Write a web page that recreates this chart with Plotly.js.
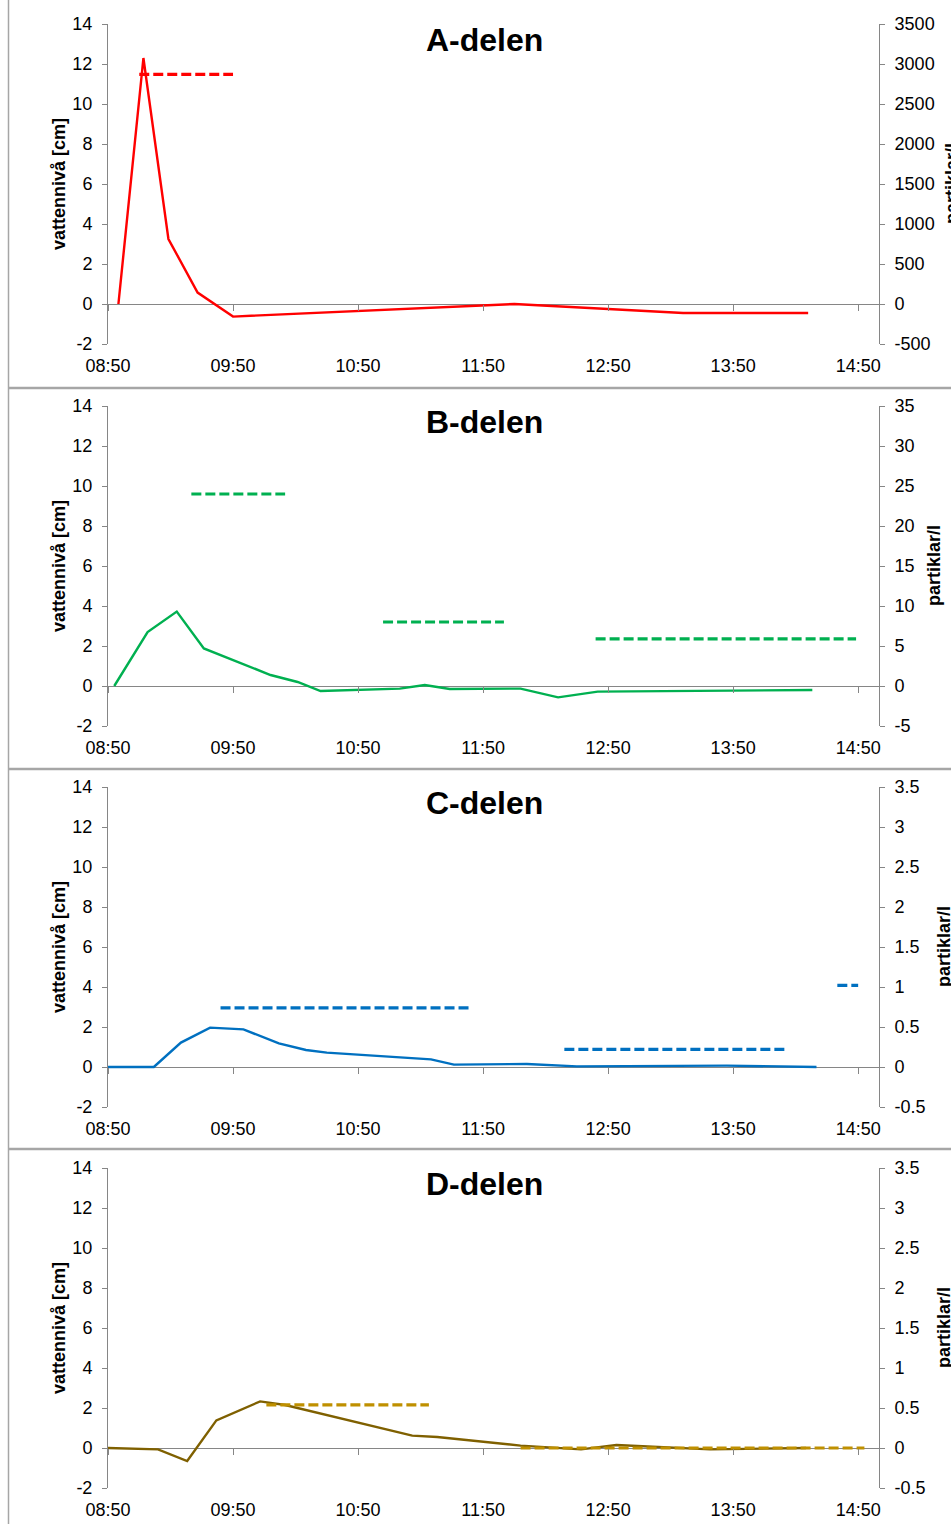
<!DOCTYPE html>
<html><head><meta charset="utf-8">
<script src="https://cdn.plot.ly/plotly-3.0.1.min.js"></script>
<style>html,body{margin:0;padding:0;background:#fff}#chart{width:951px;height:1524px}</style>
</head><body><div id="chart"></div>
<script>
// ---------- data ----------
const day = '2024-01-01 ';
const panelTitles = ['A-delen', 'B-delen', 'C-delen', 'D-delen'];
const leftTitle = 'vattennivå [cm]';
const rightTitle = 'partiklar/l';

const xTickLabels = ['08:50', '09:50', '10:50', '11:50', '12:50', '13:50', '14:50'];
const xRangeLabels = ['08:50', '15:00'];

const leftTickVals = [-2, 0, 2, 4, 6, 8, 10, 12, 14];
const leftTickText = ['-2', '0', '2', '4', '6', '8', '10', '12', '14'];

const rightTickValsA = [-500, 0, 500, 1000, 1500, 2000, 2500, 3000, 3500];
const rightTickTextA = ['-500', '0', '500', '1000', '1500', '2000', '2500', '3000', '3500'];
const rightTickValsB = [-5, 0, 5, 10, 15, 20, 25, 30, 35];
const rightTickTextB = ['-5', '0', '5', '10', '15', '20', '25', '30', '35'];
const rightTickValsCD = [-0.5, 0, 0.5, 1, 1.5, 2, 2.5, 3, 3.5];
const rightTickTextCD = ['-0.5', '0', '0.5', '1', '1.5', '2', '2.5', '3', '3.5'];

// A-delen
const aWaterTime = ['08:55', '09:07', '09:19', '09:33', '09:50', '12:05', '13:26', '14:26'];
const aWaterLevel = [0, 12.3, 3.25, 0.57, -0.63, 0, -0.45, -0.45];
const aPartStart = ['09:05'];
const aPartEnd = ['09:50'];
const aPartValue = [2870];

// B-delen
const bWaterTime = ['08:53', '09:09', '09:23', '09:36', '10:08', '10:21', '10:32', '11:10', '11:22', '11:34', '12:08', '12:26', '12:45', '14:28'];
const bWaterLevel = [0, 2.7, 3.72, 1.88, 0.55, 0.2, -0.25, -0.13, 0.05, -0.15, -0.13, -0.57, -0.28, -0.2];
const bPartStart = ['09:30', '11:02', '12:44'];
const bPartEnd = ['10:15', '12:00', '14:49'];
const bPartValue = [24, 8, 5.9];

// C-delen
const cWaterTime = ['08:50', '09:12', '09:25', '09:39', '09:55', '10:12', '10:25', '10:35', '11:25', '11:36', '12:11', '12:35', '13:47', '14:30'];
const cWaterLevel = [0, 0, 1.22, 1.97, 1.88, 1.18, 0.85, 0.72, 0.38, 0.12, 0.15, 0.03, 0.07, 0];
const cPartStart = ['09:44', '12:29', '14:40'];
const cPartEnd = ['11:44', '14:15', '14:50'];
const cPartValue = [0.74, 0.22, 1.02];

// D-delen
const dWaterTime = ['08:50', '09:14', '09:28', '09:42', '10:03', '10:15', '11:16', '11:28', '12:08', '12:37', '12:54', '13:15', '13:39', '14:25'];
const dWaterLevel = [0, -0.07, -0.65, 1.38, 2.33, 2.15, 0.62, 0.55, 0.12, -0.07, 0.15, 0.03, -0.07, 0];
const dPartStart = ['10:06', '12:08'];
const dPartEnd = ['11:24', '14:53'];
const dPartValue = [0.54, 0];

// ---------- styling / layout ----------
const FONT = 'Liberation Sans, Arial, sans-serif';
const AX = '#868686';
const W = 951, H = 1524;
const px = v => v / W;
const py = v => 1 - v / H;
const TICK_SIZE = 18;

const panels = [
  {wt: aWaterTime, wl: aWaterLevel, ps: aPartStart, pe: aPartEnd, pv: aPartValue,
   rRange: [-500, 3500], rVals: rightTickValsA, rText: rightTickTextA,
   solid: '#FF0000', dash: '#FF0000', top: 24, rtx: 952},
  {wt: bWaterTime, wl: bWaterLevel, ps: bPartStart, pe: bPartEnd, pv: bPartValue,
   rRange: [-5, 35], rVals: rightTickValsB, rText: rightTickTextB,
   solid: '#00B050', dash: '#00B050', top: 406, rtx: 934},
  {wt: cWaterTime, wl: cWaterLevel, ps: cPartStart, pe: cPartEnd, pv: cPartValue,
   rRange: [-0.5, 3.5], rVals: rightTickValsCD, rText: rightTickTextCD,
   solid: '#0070C0', dash: '#0070C0', top: 787, rtx: 944},
  {wt: dWaterTime, wl: dWaterLevel, ps: dPartStart, pe: dPartEnd, pv: dPartValue,
   rRange: [-0.5, 3.5], rVals: rightTickValsCD, rText: rightTickTextCD,
   solid: '#7F6000', dash: '#BF9000', top: 1168, rtx: 944}
];

const PLOT_L = 108, PLOT_R = 879, PLOT_H = 320;

function segments(starts, ends, vals) {
  const x = [], y = [];
  starts.forEach((s, k) => {
    if (k > 0) { x.push(null); y.push(null); }
    x.push(day + s, day + ends[k]);
    y.push(vals[k], vals[k]);
  });
  return {x, y};
}

const traces = [];
const layout = {
  width: W, height: H, autosize: false,
  margin: {l: 0, r: 0, t: 0, b: 0},
  paper_bgcolor: '#ffffff', plot_bgcolor: 'rgba(0,0,0,0)',
  showlegend: false,
  font: {family: FONT, size: TICK_SIZE, color: '#000'},
  shapes: [], annotations: []
};

panels.forEach((p, i) => {
  const xId = i === 0 ? 'x' : 'x' + (i + 1);
  const xKey = i === 0 ? 'xaxis' : 'xaxis' + (i + 1);
  const yl = 'y' + (2 * i + 1), yr = 'y' + (2 * i + 2);
  const ylKey = (2 * i + 1) === 1 ? 'yaxis' : 'yaxis' + (2 * i + 1);
  const yrKey = 'yaxis' + (2 * i + 2);
  const zx = 'x' + (i + 5), zxKey = 'xaxis' + (i + 5);
  const range = [day + xRangeLabels[0], day + xRangeLabels[1]];
  const tvals = xTickLabels.map(t => day + t);

  layout[xKey] = {
    domain: [px(PLOT_L), px(PLOT_R)], anchor: yl, type: 'date', range: range,
    tickvals: tvals, ticktext: xTickLabels, ticks: '', showline: false,
    showgrid: false, zeroline: false, ticklabelstandoff: 9,
    tickfont: {family: FONT, size: TICK_SIZE, color: '#000'}, fixedrange: true
  };
  layout[ylKey] = {
    domain: [py(p.top + PLOT_H), py(p.top)], anchor: xId, range: [-2, 14],
    tickvals: leftTickVals, ticktext: leftTickText,
    showline: true, linecolor: AX, linewidth: 1, ticks: 'outside', ticklen: 5,
    tickcolor: AX, tickwidth: 1, showgrid: false,
    zeroline: true, zerolinecolor: AX, zerolinewidth: 1,
    ticklabelstandoff: 6, tickfont: {family: FONT, size: TICK_SIZE, color: '#000'}, fixedrange: true
  };
  layout[yrKey] = {
    overlaying: yl, side: 'right', anchor: xId, range: p.rRange,
    tickvals: p.rVals, ticktext: p.rText,
    showline: true, linecolor: AX, linewidth: 1, ticks: 'outside', ticklen: 5,
    tickcolor: AX, tickwidth: 1, showgrid: false, zeroline: false,
    ticklabelstandoff: 6, tickfont: {family: FONT, size: TICK_SIZE, color: '#000'}, fixedrange: true
  };
  layout[zxKey] = {
    overlaying: xId, anchor: 'free', position: py(p.top + 280), type: 'date', range: range,
    tickvals: tvals, ticks: 'outside', ticklen: 6, tickcolor: AX, tickwidth: 1,
    showticklabels: false, showline: false, showgrid: false, zeroline: false, fixedrange: true
  };

  traces.push({
    x: p.wt.map(t => day + t), y: p.wl, xaxis: xId, yaxis: yl,
    type: 'scatter', mode: 'lines', line: {color: p.solid, width: 2.4},
    hoverinfo: 'skip'
  });
  const s = segments(p.ps, p.pe, p.pv);
  traces.push({
    x: s.x, y: s.y, xaxis: xId, yaxis: yr, connectgaps: false,
    type: 'scatter', mode: 'lines', line: {color: p.dash, width: 3.2, dash: '10px,4px'},
    hoverinfo: 'skip'
  });
  traces.push({x: [], y: [], xaxis: zx, yaxis: yl, type: 'scatter', mode: 'lines', hoverinfo: 'skip'});

  // panel title
  layout.annotations.push({
    text: panelTitles[i], xref: 'paper', yref: 'paper',
    x: px(484), y: py(p.top + 16), xanchor: 'center', yanchor: 'middle',
    showarrow: false, font: {family: FONT, size: 32, color: '#000', weight: 'bold'}
  });
  // left axis title
  layout.annotations.push({
    text: leftTitle, xref: 'paper', yref: 'paper', textangle: -90,
    x: px(59), y: py(p.top + PLOT_H / 2), xanchor: 'center', yanchor: 'middle',
    showarrow: false, font: {family: FONT, size: 18, color: '#000', weight: 'bold'}
  });
  // right axis title
  layout.annotations.push({
    text: rightTitle, xref: 'paper', yref: 'paper', textangle: -90,
    x: px(p.rtx), y: py(p.top + PLOT_H / 2), xanchor: 'center', yanchor: 'middle',
    showarrow: false, font: {family: FONT, size: 18, color: '#000', weight: 'bold'}
  });
});

// chart-area borders of the stacked charts
const BORDER = '#A6A6A6';
layout.shapes.push({type: 'line', xref: 'paper', yref: 'paper', x0: px(8.5), x1: px(8.5), y0: 0, y1: 1,
  line: {color: BORDER, width: 1.5}});
[388, 769, 1149].forEach(yy => {
  layout.shapes.push({type: 'line', xref: 'paper', yref: 'paper', x0: px(8), x1: 1, y0: py(yy), y1: py(yy),
    line: {color: BORDER, width: 2.5}});
});

Plotly.newPlot('chart', traces, layout, {staticPlot: true, displayModeBar: false});
</script>
</body></html>
